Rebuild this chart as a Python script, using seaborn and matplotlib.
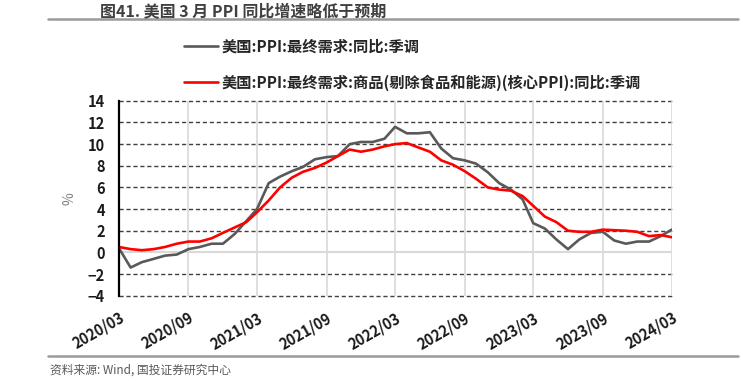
import matplotlib
matplotlib.use("Agg")
import matplotlib.pyplot as plt
import pandas as pd
import seaborn as sns

# monthly data, 2020/03 - 2024/03
months = pd.date_range("2020-03-01", "2024-03-01", freq="MS")
ppi_final_demand = [
    0.4, -1.4, -0.9, -0.6, -0.3, -0.2, 0.3, 0.5, 0.8, 0.8,
    1.7, 2.9, 4.0, 6.4, 7.0, 7.5, 7.9, 8.6, 8.8, 8.9,
    10.0, 10.2, 10.2, 10.5, 11.6, 11.0, 11.0, 11.1, 9.6, 8.7,
    8.5, 8.2, 7.4, 6.4, 5.8, 4.9, 2.7, 2.2, 1.2, 0.3,
    1.2, 1.8, 1.9, 1.1, 0.8, 1.0, 1.0, 1.5, 2.1,
]
ppi_core_goods = [
    0.5, 0.3, 0.2, 0.3, 0.5, 0.8, 1.0, 1.0, 1.3, 1.8,
    2.3, 2.8, 3.7, 4.8, 6.0, 6.9, 7.45, 7.8, 8.3, 8.9,
    9.5, 9.3, 9.5, 9.8, 10.0, 10.1, 9.7, 9.3, 8.5, 8.1,
    7.5, 6.8, 6.0, 5.8, 5.7, 5.2, 4.3, 3.3, 2.8, 2.0,
    1.9, 1.9, 2.1, 2.05, 2.0, 1.9, 1.5, 1.6, 1.4,
]
series_names = [
    "美国:PPI:最终需求:同比:季调",
    "美国:PPI:最终需求:商品(剔除食品和能源)(核心PPI):同比:季调",
]
y_ticks = list(range(-4, 16, 2))
tick_months = pd.date_range("2020-03-01", "2024-03-01", freq="6MS")

sns.set_theme(style="white")
plt.rcParams["font.family"] = ["Noto Sans CJK SC", "DejaVu Sans"]
plt.rcParams["axes.unicode_minus"] = False

df = pd.DataFrame({
    "month": list(months) * 2,
    "value": ppi_final_demand + ppi_core_goods,
    "series": [series_names[0]] * len(months) + [series_names[1]] * len(months),
})

fig = plt.figure(figsize=(7.43, 3.82), dpi=100)
ax = fig.add_axes([0.160, 0.226, 0.744, 0.510])

# grid: dashed horizontals, light solid verticals and zero line
ax.grid(axis="x", color="#d9d9d9", linewidth=1.2, linestyle="-")
for v in y_ticks:
    if v == 0:
        ax.axhline(v, color="#d9d9d9", linewidth=1.5, zorder=0.5)
    else:
        ax.axhline(v, color="#404040", linewidth=1.0, linestyle=(0, (3, 2)),
                   zorder=0.5, clip_on=False)
ax.set_axisbelow(True)

sns.lineplot(data=df, x="month", y="value", hue="series",
             palette={series_names[0]: "#595959", series_names[1]: "#ff0000"},
             linewidth=1.9, ax=ax)

ax.set_xlim(months[0], months[-1])
ax.set_ylim(-4, 14)
ax.set_yticks(y_ticks)
ax.set_yticklabels([str(v).replace("-", "−") for v in y_ticks],
                   fontsize=10.5, fontweight="bold", color="#1a1a1a")
ax.set_xticks(tick_months)
ax.set_xticklabels([d.strftime("%Y/%m") for d in tick_months],
                   rotation=30, ha="right", va="top", rotation_mode="anchor",
                   fontsize=10.5, fontweight="bold", color="#1a1a1a")
ax.tick_params(axis="y", length=0, pad=10)
ax.tick_params(axis="x", length=0, pad=10)

ax.set_xlabel("")
ax.set_ylabel("%", fontsize=10, color="#808080", labelpad=8)

for side in ["top", "right", "bottom"]:
    ax.spines[side].set_visible(False)
ax.spines["left"].set_color("black")
ax.spines["left"].set_linewidth(1.6)
ax.spines["left"].set_zorder(3)

ax.legend(loc="upper left", bbox_to_anchor=(0.229, 0.935), bbox_transform=fig.transFigure,
          frameon=False, labelspacing=1.3, handlelength=2.2, handletextpad=0.25,
          prop={"size": 11, "weight": "bold"})

# header / footer
fig.text(0.135, 0.992, "图41. 美国 3 月 PPI 同比增速略低于预期", fontsize=11.5,
         fontweight="bold", color="#404040", va="top")
fig.add_artist(plt.Line2D([0.065, 0.993], [0.949, 0.949], color="#9a9a9a", linewidth=1.8))
fig.add_artist(plt.Line2D([0.065, 0.993], [0.069, 0.069], color="#9a9a9a", linewidth=1.8))
fig.text(0.067, 0.030, "资料来源: Wind, 国投证券研究中心", fontsize=8.5,
         color="#595959", style="italic", va="center")

plt.savefig("out.png", dpi=100)
